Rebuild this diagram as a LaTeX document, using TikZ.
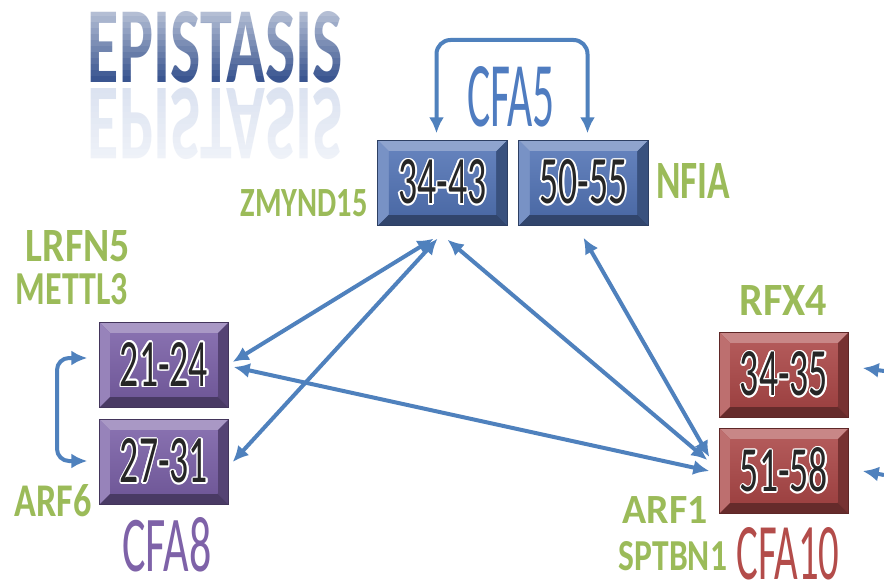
\documentclass[tikz,border=0pt]{standalone}
\usepackage{fontspec}
\setmainfont{Carlito}
\usepackage{graphicx}
\usepackage{contour}
\usetikzlibrary{arrows.meta}
\usetikzlibrary{calc}
\contourlength{1.6pt}
\contournumber{12}
\definecolor{linkblue}{HTML}{4F81BD}
\definecolor{genegreen}{HTML}{9BBB59}
\definecolor{boxblue}{HTML}{5273B4}
\definecolor{boxpurple}{HTML}{7A60A6}
\definecolor{boxred}{HTML}{AA4747}
\definecolor{cfablue}{HTML}{4F7CC0}
\definecolor{cfapurple}{HTML}{7E62A8}
\definecolor{cfared}{HTML}{B34C4A}
\definecolor{titlebottom}{HTML}{3A5590}
\definecolor{titleghost}{HTML}{DCE3F1}
\tikzstyle{region} = [rectangle, minimum width=129pt, minimum height=85pt, inner sep=0pt]
\tikzstyle{link} = [{Latex[length=16pt, width=15pt]}-{Latex[length=16pt, width=15pt]}, line width=4pt, draw=linkblue]
\tikzstyle{inlink} = [-{Latex[length=16pt, width=15pt]}, line width=4pt, draw=linkblue]
\tikzstyle{gene} = [text=genegreen, inner sep=0pt, font=\bfseries]
\tikzstyle{chrom} = [inner sep=0pt]
\newcommand{\BevelBox}[4]{
	\node[region, fill=#4] (#1) at #2 {};
	\fill[#4!65!white] (#1.north west) -- (#1.north east) -- ([xshift=-11pt,yshift=-11pt]#1.north east) -- ([xshift=11pt,yshift=-11pt]#1.north west) -- cycle;
	\fill[#4!78!white] (#1.north west) -- ([xshift=11pt,yshift=-11pt]#1.north west) -- ([xshift=11pt,yshift=11pt]#1.south west) -- (#1.south west) -- cycle;
	\fill[#4!70!black] (#1.north east) -- (#1.south east) -- ([xshift=-11pt,yshift=11pt]#1.south east) -- ([xshift=-11pt,yshift=-11pt]#1.north east) -- cycle;
	\fill[#4!60!black] (#1.south west) -- ([xshift=11pt,yshift=11pt]#1.south west) -- ([xshift=-11pt,yshift=11pt]#1.south east) -- (#1.south east) -- cycle;
	\shade[top color=#4!90!white, bottom color=#4!92!black] ([xshift=11pt,yshift=-11pt]#1.north west) rectangle ([xshift=-11pt,yshift=11pt]#1.south east);
	\draw[#4!55!black, line width=0.8pt] (#1.north west) rectangle (#1.south east);
	\node[chrom] at (#1) {\contour{white}{\color{black!85}\resizebox{88pt}{44pt}{#3}}};
}

\begin{document}
\begin{tikzpicture}[x=1pt, y=-1pt]
	\useasboundingbox[fill=white] (0,0) rectangle (884,588);

	% title and its reflection
	\node[chrom, text=titlebottom] (title) at (215.5,47.5) {\resizebox{255pt}{71pt}{\bfseries EPISTASIS}};
	\node[chrom, text=titleghost] (ghost) at (215.5,124) {\scalebox{1}[-1]{\resizebox{255pt}{71pt}{\bfseries EPISTASIS}}};
	\foreach \k in {0,...,11}
		\fill[white, opacity={0.62*(1-\k/11)}] (84,{10+\k*6}) rectangle (348,{16+\k*6});
	\foreach \k in {0,...,11}
		\fill[white, opacity={0.55*\k/11}] (84,{87+\k*6.2}) rectangle (348,{93.2+\k*6.2});

	% regions
	\BevelBox{B3443}{(442.5,183)}{34-43}{boxblue}
	\BevelBox{B5055}{(583.5,183)}{50-55}{boxblue}
	\BevelBox{B2124}{(164,365)}{21-24}{boxpurple}
	\BevelBox{B2731}{(164,462)}{27-31}{boxpurple}
	\BevelBox{B3435}{(784,375)}{34-35}{boxred}
	\BevelBox{B5158}{(784,471)}{51-58}{boxred}

	% chromosome names
	\node[chrom, text=cfablue] (cfa5) at (511,97) {\resizebox{88pt}{60pt}{CFA5}};
	\node[chrom, text=cfapurple] (cfa8) at (167,545) {\resizebox{89pt}{54pt}{CFA8}};
	\node[chrom, text=cfared] (cfa10) at (788,554) {\resizebox{103pt}{52pt}{CFA10}};

	% genes
	\node[gene] (zmynd15) at (304,203) {\resizebox{127pt}{27pt}{ZMYND15}};
	\node[gene] (nfia) at (693,181) {\resizebox{74pt}{35pt}{NFIA}};
	\node[gene] (lrfn5) at (78,246) {\resizebox{104pt}{31pt}{LRFN5}};
	\node[gene] (mettl3) at (72,289) {\resizebox{112pt}{31pt}{METTL3}};
	\node[gene] (arf6) at (53,501) {\resizebox{77pt}{32pt}{ARF6}};
	\node[gene] (rfx4) at (783,300) {\resizebox{87pt}{30pt}{RFX4}};
	\node[gene] (arf1) at (665,510) {\resizebox{85pt}{27pt}{ARF1}};
	\node[gene] (sptbn1) at (673,556) {\resizebox{108pt}{29pt}{SPTBN1}};

	% connections
	\coordinate (cfa5top) at (512,40);
	\coordinate (cfa8side) at (57,410);
	\coordinate (edge1) at (884,371);
	\coordinate (edge2) at (884,475);

	\draw[link, rounded corners=14pt] ([xshift=-6pt,yshift=7pt]B3443.north) |- (cfa5top) -| ([xshift=4pt,yshift=7pt]B5055.north);
	\draw[link, rounded corners=12pt] ([xshift=-12pt,yshift=7pt]B2124.west) -| (cfa8side) |- ([xshift=-12pt,yshift=1pt]B2731.west);

	\draw[link] ([xshift=-9pt,yshift=-13pt]B3443.south) -- ([xshift=4pt,yshift=3pt]B2124.east);
	\draw[link] ([xshift=-5pt,yshift=-13pt]B3443.south) -- ([xshift=4pt]B2731.east);
	\draw[link] ([xshift=5pt,yshift=-14pt]B3443.south) -- ([xshift=-12pt,yshift=11pt]B5158.west);
	\draw[link] ([yshift=-12pt]B5055.south) -- ([xshift=-10pt,yshift=14pt]B5158.west);
	\draw[link] ([xshift=5pt,yshift=-2pt]B2124.east) -- ([xshift=-10pt]B5158.west);

	\draw[inlink] (edge1) -- ([xshift=14pt,yshift=7pt]B3435.east);
	\draw[inlink] (edge2) -- ([xshift=14pt]B5158.east);
\end{tikzpicture}
\end{document}
